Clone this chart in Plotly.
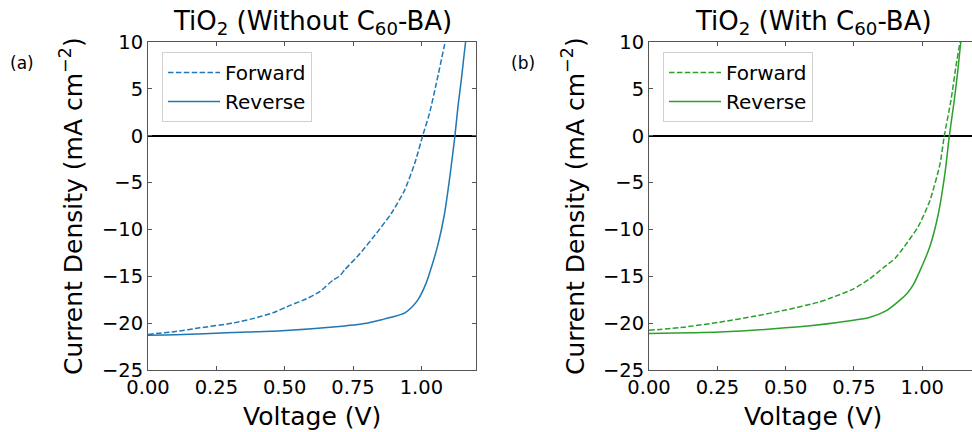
import plotly.graph_objects as go

# ---- data ----
v_fwd_a = [0, 0.10, 0.19, 0.31, 0.40, 0.457, 0.52, 0.58, 0.63, 0.677, 0.70, 0.72,
           0.775, 0.836, 0.890, 0.939, 0.976, 1.005, 1.030, 1.055, 1.085, 1.089]
j_fwd_a = [-21.2, -20.9, -20.5, -20.0, -19.4, -18.9, -18.1, -17.4, -16.6, -15.4, -15.0, -14.3,
           -12.6, -10.4, -8.3, -5.8, -2.95, 0.0, 2.4, 5.6, 9.7, 10.2]
v_rev_a = [0, 0.10, 0.31, 0.49, 0.677, 0.80, 0.86, 0.90, 0.94, 0.965, 0.988, 1.018,
           1.032, 1.061, 1.085, 1.106, 1.123, 1.134, 1.146, 1.162, 1.164]
j_rev_a = [-21.3, -21.25, -21.0, -20.8, -20.4, -20.0, -19.6, -19.3, -18.9, -18.3, -17.5, -15.7,
           -14.5, -11.6, -8.3, -4.0, 0.0, 3.1, 5.9, 10.0, 10.3]

v_fwd_b = [0, 0.135, 0.257, 0.379, 0.50, 0.623, 0.662, 0.745, 0.806, 0.857, 0.90, 0.930,
           0.985, 1.028, 1.065, 1.0805, 1.105, 1.123, 1.138, 1.140]
j_fwd_b = [-20.77, -20.4, -19.9, -19.3, -18.6, -17.75, -17.35, -16.4, -15.3, -14.1, -13.1, -12.0,
           -9.7, -6.9, -3.0, 0.0, 3.8, 7.4, 10.0, 10.3]
v_rev_b = [0, 0.257, 0.50, 0.684, 0.806, 0.867, 0.916, 0.945, 0.965, 0.99, 1.028, 1.059,
           1.083, 1.099, 1.117, 1.129, 1.141, 1.143]
j_rev_b = [-21.1, -20.95, -20.5, -19.95, -19.4, -18.7, -17.6, -16.8, -16.0, -14.5, -11.8, -8.3,
           -4.0, 0.0, 3.8, 6.7, 10.0, 10.3]

x_ticks = [0, 0.25, 0.5, 0.75, 1.0]
x_tick_labels = ["0.00", "0.25", "0.50", "0.75", "1.00"]
y_ticks = [-25, -20, -15, -10, -5, 0, 5, 10]

BLUE = "#1f77b4"
GREEN = "#2ca02c"
FONT = "DejaVu Sans"
DASH = "5.5px,2.4px"

fig = go.Figure()
fig.add_trace(go.Scatter(x=v_fwd_a, y=j_fwd_a, mode="lines", name="Forward",
                         line=dict(color=BLUE, width=1.5, dash=DASH, shape="spline", smoothing=0.5),
                         xaxis="x", yaxis="y", legend="legend"))
fig.add_trace(go.Scatter(x=v_rev_a, y=j_rev_a, mode="lines", name="Reverse",
                         line=dict(color=BLUE, width=1.5, shape="spline", smoothing=0.6),
                         xaxis="x", yaxis="y", legend="legend"))
fig.add_trace(go.Scatter(x=v_fwd_b, y=j_fwd_b, mode="lines", name="Forward",
                         line=dict(color=GREEN, width=1.5, dash=DASH, shape="spline", smoothing=0.6),
                         xaxis="x2", yaxis="y2", legend="legend2"))
fig.add_trace(go.Scatter(x=v_rev_b, y=j_rev_b, mode="lines", name="Reverse",
                         line=dict(color=GREEN, width=1.5, shape="spline", smoothing=0.6),
                         xaxis="x2", yaxis="y2", legend="legend2"))

W, H = 972, 432
ax_common = dict(showline=True, linecolor="#555", linewidth=1, ticks="inside", ticklen=4,
                 tickcolor="#555", tickwidth=1, showgrid=False, automargin=False,
                 tickfont=dict(family=FONT, size=19.5, color="black"))
y_top, y_bot = 42, 370
ydom = [1 - y_bot / H, 1 - y_top / H]

xa = dict(ax_common, range=[0, 1.2], tickvals=x_ticks, ticktext=x_tick_labels,
          zeroline=False, mirror="ticks")
ya = dict(ax_common, range=[-25, 10], tickvals=y_ticks, zeroline=True,
          zerolinecolor="black", zerolinewidth=2)

leg_common = dict(y=1 - 52 / H, xanchor="left", yanchor="top", itemwidth=52,
                  bgcolor="rgba(255,255,255,0.8)", bordercolor="#d0d0d0", borderwidth=1,
                  font=dict(family=FONT, size=20, color="black"))

fig.update_layout(
    width=W, height=H,
    margin=dict(l=0, r=0, t=0, b=0, autoexpand=False),
    paper_bgcolor="white", plot_bgcolor="white",
    font=dict(family=FONT, color="black"),
    xaxis=dict(xa, domain=[148 / W, 476 / W], anchor="y"),
    yaxis=dict(ya, domain=ydom, anchor="x", mirror="ticks"),
    xaxis2=dict(xa, domain=[649 / W, 1.0], anchor="y2", range=[0, (W - 649) / 273.3]),
    yaxis2=dict(ya, domain=ydom, anchor="x2", mirror=False),
    legend=dict(leg_common, x=162 / W),
    legend2=dict(leg_common, x=663 / W),
    showlegend=True,
)

ann = []
def add_text(x, y, text, size, angle=0):
    ann.append(dict(x=x / W, y=1 - y / H, xref="paper", yref="paper", text=text,
                    showarrow=False, textangle=angle, xanchor="center", yanchor="middle",
                    font=dict(family=FONT, size=size, color="black")))

add_text(312, 23, "TiO<sub>2</sub> (Without C<sub>60</sub>-BA)", 26)
add_text(813, 23, "TiO<sub>2</sub> (With C<sub>60</sub>-BA)", 26)
add_text(312, 416, "Voltage (V)", 25)
add_text(813, 416, "Voltage (V)", 25)
add_text(71, 206, "Current Density (mA cm<sup>−2</sup>)", 25, -90)
add_text(573, 206, "Current Density (mA cm<sup>−2</sup>)", 25, -90)
add_text(22, 63, "(a)", 17)
add_text(523, 63, "(b)", 17)
fig.update_layout(annotations=ann)

fig.write_html("out.html", config={"displayModeBar": False},
               post_script="document.body.style.margin='0';document.body.style.overflow='hidden';")
